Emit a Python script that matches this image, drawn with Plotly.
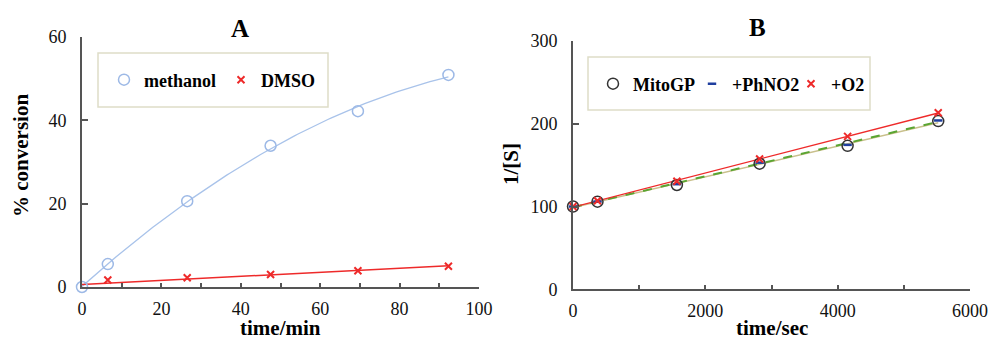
import numpy as np
import plotly.graph_objects as go

# ---------------- data ----------------
time_a = [0, 6.5, 26.5, 47.5, 69.5, 92.3]
methanol = [0.0, 5.5, 20.6, 33.9, 42.2, 50.9]
dmso = [-0.3, 1.7, 2.2, 3.0, 3.9, 5.0]

time_b = [0, 370, 1570, 2820, 4150, 5520]
mitogp = [100, 105.9, 126, 151.8, 173.3, 203.2]
phno2 = [100, 106, 127, 153, 174.5, 204]
o2 = [100, 107, 130.5, 157.4, 184.8, 213.3]

W, H = 990, 342
SERIF = "Liberation Serif, Times New Roman, DejaVu Serif, serif"
AX = "#555555"
RED = "#ee2a2a"


def px(x):
    return x / W


def py(y):
    return (H - y) / H


fig = go.Figure()

# ---- trendlines (fits of the plotted data) ----
xa = np.linspace(min(time_a), max(time_a), 120)
fig.add_trace(go.Scatter(x=xa, y=np.polyval(np.polyfit(time_a, methanol, 2), xa),
                         mode="lines", line=dict(color="#a9c3ea", width=1.3),
                         showlegend=False, hoverinfo="skip", xaxis="x", yaxis="y"))
xd = np.array([0, max(time_a)])
fig.add_trace(go.Scatter(x=xd, y=np.polyval(np.polyfit(time_a, dmso, 1), xd),
                         mode="lines", line=dict(color=RED, width=1.5),
                         showlegend=False, hoverinfo="skip", xaxis="x", yaxis="y"))

xb = np.array([0, max(time_b)])
fig.add_trace(go.Scatter(x=xb, y=np.polyval(np.polyfit(time_b, mitogp, 1), xb),
                         mode="lines", line=dict(color="#c9c08c", width=1.5),
                         showlegend=False, hoverinfo="skip", xaxis="x2", yaxis="y2"))
fig.add_trace(go.Scatter(x=xb, y=np.polyval(np.polyfit(time_b, phno2, 1), xb),
                         mode="lines", line=dict(color="#5aa532", width=2, dash="dash"),
                         showlegend=False, hoverinfo="skip", xaxis="x2", yaxis="y2"))
fig.add_trace(go.Scatter(x=xb, y=np.polyval(np.polyfit(time_b, o2, 1), xb),
                         mode="lines", line=dict(color=RED, width=1.3),
                         showlegend=False, hoverinfo="skip", xaxis="x2", yaxis="y2"))

# ---- markers ----
fig.add_trace(go.Scatter(x=time_a, y=methanol, mode="markers", name="methanol",
                         marker=dict(symbol="circle-open", size=11, color="#9db9e6",
                                     line=dict(width=1.5)),
                         cliponaxis=False, xaxis="x", yaxis="y", legend="legend"))
fig.add_trace(go.Scatter(x=time_a, y=dmso, mode="markers", name="DMSO",
                         marker=dict(symbol="x-thin-open", size=7, color=RED,
                                     line=dict(width=2, color=RED)),
                         cliponaxis=False, xaxis="x", yaxis="y", legend="legend"))

fig.add_trace(go.Scatter(x=time_b, y=mitogp, mode="markers", name="MitoGP",
                         marker=dict(symbol="circle-open", size=11, color="#333333",
                                     line=dict(width=1.5)),
                         cliponaxis=False, xaxis="x2", yaxis="y2", legend="legend2"))
fig.add_trace(go.Scatter(x=time_b, y=phno2, mode="markers", name="+PhNO2",
                         marker=dict(symbol="line-ew-open", size=6, color="#1f3f9f",
                                     line=dict(width=2.5, color="#1f3f9f")),
                         cliponaxis=False, xaxis="x2", yaxis="y2", legend="legend2"))
fig.add_trace(go.Scatter(x=time_b, y=o2, mode="markers", name="+O2",
                         marker=dict(symbol="x-thin-open", size=7, color=RED,
                                     line=dict(width=2, color=RED)),
                         cliponaxis=False, xaxis="x2", yaxis="y2", legend="legend2"))

tickfont = dict(family=SERIF, size=18, color="#111111")
common = dict(showline=True, linecolor=AX, linewidth=2, showgrid=False, zeroline=False,
              ticks="inside", tickcolor=AX, tickwidth=1.5, tickfont=tickfont,
              automargin=False, fixedrange=True)


def label(text, x, y, size=21, angle=0):
    return dict(text=text, x=px(x), y=py(y), xref="paper", yref="paper", showarrow=False,
                xanchor="center", yanchor="middle", textangle=angle,
                font=dict(family=SERIF, size=size, color="black", weight="bold"))


fig.update_layout(
    width=W, height=H, margin=dict(l=0, r=0, t=0, b=0),
    paper_bgcolor="white", plot_bgcolor="white",
    xaxis=dict(domain=[px(82), px(479)], range=[0, 100], dtick=20, ticklen=4,
               minor=dict(dtick=10, ticks="inside", ticklen=4, tickcolor=AX, tickwidth=1.5),
               ticklabelstandoff=4, anchor="y", **common),
    yaxis=dict(domain=[py(287), py(37)], range=[0, 60], dtick=20, ticklen=6,
               ticklabelstandoff=10, anchor="x", **common),
    xaxis2=dict(domain=[px(573), px(970)], range=[0, 6000], dtick=2000, ticklen=4,
                minor=dict(dtick=1000, ticks="inside", ticklen=4, tickcolor=AX, tickwidth=1.5),
                ticklabelstandoff=4, anchor="y2", **common),
    yaxis2=dict(domain=[py(289.3), py(41)], range=[0, 300], dtick=100, ticklen=6,
                ticklabelstandoff=10, anchor="x2", **common),
    legend=dict(x=px(104), y=py(80), xanchor="left", yanchor="middle", orientation="h",
                bgcolor="rgba(0,0,0,0)", borderwidth=0,
                font=dict(family=SERIF, size=18, color="black", weight="bold")),
    legend2=dict(x=px(593), y=py(84), xanchor="left", yanchor="middle", orientation="h",
                 bgcolor="rgba(0,0,0,0)", borderwidth=0, entrywidth=54, entrywidthmode="pixels",
                 font=dict(family=SERIF, size=18, color="black", weight="bold")),
    shapes=[
        dict(type="rect", xref="paper", yref="paper", x0=px(98), x1=px(328), y0=py(107), y1=py(53),
             line=dict(color="#deddc8", width=1.5), fillcolor="rgba(0,0,0,0)", layer="below"),
        dict(type="rect", xref="paper", yref="paper", x0=px(588), x1=px(870), y0=py(110), y1=py(57),
             line=dict(color="#deddc8", width=1.5), fillcolor="rgba(0,0,0,0)", layer="below"),
    ],
    annotations=[
        label("A", 240, 28, size=25),
        label("B", 757, 27, size=25),
        label("% conversion", 21, 156, angle=-90),
        label("time/min", 280, 328),
        label("1/[S]", 511, 164, angle=-90),
        label("time/sec", 772, 328),
    ],
)

fig.write_html("out.html", config={"displayModeBar": False},
               post_script="document.body.style.margin='0';document.body.style.overflow='hidden';")
